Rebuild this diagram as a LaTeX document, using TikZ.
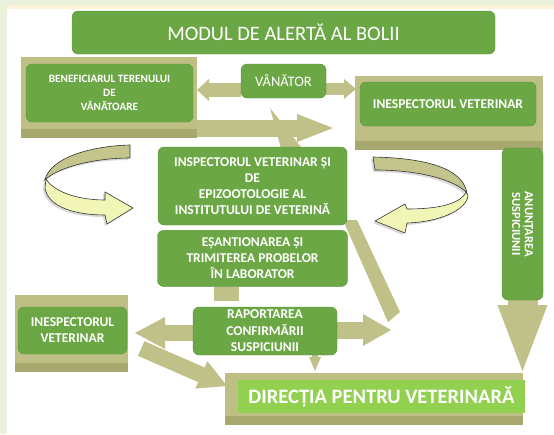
\documentclass[tikz,border=0pt]{standalone}
\usepackage{fontspec}
\setmainfont{Carlito}
\usepackage{tikz}
\usetikzlibrary{arrows.meta}
\usetikzlibrary{positioning,shadows,backgrounds}
\definecolor{boxgreen}{HTML}{6CA745}
\definecolor{boxedge}{HTML}{5A9138}
\definecolor{brightgreen}{HTML}{92D050}
\definecolor{khaki}{HTML}{BDBF85}
\definecolor{khakidark}{HTML}{A6A86D}
\definecolor{khakiarrow}{HTML}{BFC189}
\definecolor{curlback}{HTML}{C4C58D}
\definecolor{curlfront}{HTML}{F1F6B7}
\definecolor{curlline}{HTML}{333333}
\definecolor{pagegreen}{HTML}{EAF1DD}
\definecolor{pagecream}{HTML}{FDF3D8}

\begin{document}
\begin{tikzpicture}[
		x=1pt, y=-1pt,
		GreenBox/.style={draw=boxedge, fill=boxgreen, rounded corners=6pt, text=white, align=center, inner sep=0pt, font=\bfseries\fontsize{13.5}{16}\selectfont},
		BaseBox/.style={fill=khaki, inner sep=0pt, path picture={\fill[khakidark] ([yshift=9pt]path picture bounding box.south west) rectangle (path picture bounding box.south east);}},
		FatArrow/.style n args={3}{draw=khakiarrow, line width=#1, -{Triangle[length=#2, width=#3, line width=0pt]}},
		CurlBack/.style={draw=curlline, fill=curlback, line width=0.6pt, drop shadow={opacity=0.3, shadow xshift=-2pt, shadow yshift=-2pt}},
		CurlFront/.style={draw=curlline, fill=curlfront, line width=0.6pt, drop shadow={opacity=0.3, shadow xshift=-2pt, shadow yshift=-2pt}},
		every node/.style={scale=1}
		]
		
		\useasboundingbox (0,0) rectangle (554,434);
		
		\node[GreenBox, minimum width=423pt, minimum height=43pt, font=\fontsize{20.5}{24}\selectfont] (title) at (283.5,32.5) {MODUL DE ALERTĂ AL BOLII};
		
		\node[BaseBox, minimum width=176pt, minimum height=81pt] (benefBase) at (109,97.5) {};
		\node[GreenBox, minimum width=167pt, minimum height=58pt, font=\bfseries\fontsize{11.2}{14}\selectfont] (benef) at (109.5,93) {BENEFICIARUL TERENULUI\\DE\\VÂNĂTOARE};
		
		\node[GreenBox, minimum width=85pt, minimum height=34pt, font=\fontsize{14.5}{16}\selectfont] (vanator) at (283.5,81) {VÂNĂTOR};
		
		\node[BaseBox, minimum width=188pt, minimum height=74pt] (inspTopBase) at (449,113) {};
		\node[GreenBox, minimum width=176pt, minimum height=44pt] (inspTop) at (448,104) {INESPECTORUL VETERINAR};
		
		\node[GreenBox, minimum width=189pt, minimum height=78pt] (central) at (252.5,186) {INSPECTORUL VETERINAR ȘI\\DE\\EPIZOOTOLOGIE AL\\INSTITUTULUI DE VETERINĂ};
		\node[GreenBox, minimum width=190pt, minimum height=56pt, below=5pt of central] (esant) {EȘANTIONAREA ȘI\\TRIMITEREA PROBELOR\\ÎN LABORATOR};
		
		\node[GreenBox, minimum width=144pt, minimum height=48pt, font=\bfseries\fontsize{13.5}{16.5}\selectfont] (raport) at (265,331) {RAPORTAREA\\CONFIRMĂRII\\SUSPICIUNII};
		
		\node[BaseBox, minimum width=113pt, minimum height=77pt] (inspLeftBase) at (71.5,333.5) {};
		\node[GreenBox, minimum width=109pt, minimum height=47pt] (inspLeft) at (72.5,330.5) {INESPECTORUL\\VETERINAR};
		
		\node[GreenBox, rotate=-90, minimum width=152pt, minimum height=41pt, font=\bfseries\fontsize{12.5}{13}\selectfont] (anunt) at (522.5,224) {ANUNȚAREA\\SUSPICIUNII};
		
		\node[BaseBox, minimum width=298pt, minimum height=52pt] (directiaBase) at (374,399) {};
		\node[GreenBox, fill=brightgreen, draw=none, rounded corners=0pt, minimum width=287pt, minimum height=33pt, font=\bfseries\fontsize{20.5}{22}\selectfont] (directia) at (381.5,396.5) {DIRECȚIA PENTRU VETERINARĂ};
		
		% tips of the fat arrows
		\coordinate (benefTip) at (197,90);
		\coordinate (inspTip) at (356,89);
		\coordinate (benefInsp) at (333,128);
		\coordinate (raportR) at (391,330);
		\coordinate (raportL) at (135,333);
		\coordinate (dirLeft) at (227,386);
		\coordinate (smallTip) at (315,371);
		\coordinate (dirTip) at (522,371);
		
		\begin{pgfonlayer}{background}
		\fill[pagegreen] (0,0) rectangle (554,434);
		\fill[pagecream] (7,5) rectangle (554,9);
		\fill[white] (7,9) rectangle (554,434);
		
		\draw[FatArrow={14pt}{12pt}{22pt}] (vanator.west |- benefTip) -- (benefTip);
		\draw[FatArrow={12pt}{12pt}{20pt}] (vanator.east |- inspTip) -- (inspTip);
		\draw[FatArrow={17pt}{36pt}{28pt}] (benefBase.east |- benefInsp) -- (benefInsp);
		\fill[khakiarrow] (270,108) -- (305,152) -- (282,152) -- cycle;
		
		\fill[khakiarrow] (343,220) -- (357,220) -- (400,312) -- (388,322) -- cycle;
		\draw[FatArrow={17pt}{28pt}{32pt}] (raport.east |- raportR) -- (raportR);
		\draw[FatArrow={16pt}{30pt}{32pt}] (raport.west |- raportL) -- (raportL);
		\draw[FatArrow={16pt}{28pt}{30pt}] ([shift={(14,18)}]inspLeft.east) -- (dirLeft);
		\fill[khakiarrow] ([xshift=-39pt]esant.south) rectangle ++(25,14);
		\draw[FatArrow={6pt}{14pt}{12pt}] ([xshift=50pt]raport.south) -- (smallTip);
		\draw[FatArrow={30pt}{66pt}{50pt}] (anunt.east) -- (anunt.east |- dirTip);
		\end{pgfonlayer}
		
		% left curl
		\draw[CurlBack] (130,145) .. controls (90,146) and (50,158) .. (45,180) .. controls (58,167) and (95,158) .. (130,158) -- cycle;
		\draw[CurlFront] (46,179) .. controls (55,193) and (80,200) .. (105,200) -- (105,192) -- (133,208) -- (107,224) -- (105,215) .. controls (75,215) and (48,207) .. (45,188) -- cycle;
		
		% right curl
		\draw[CurlBack] (373,157) .. controls (420,158) and (462,166) .. (467,193) .. controls (455,180) and (420,170) .. (375,170) -- cycle;
		\draw[CurlFront] (466,192) .. controls (460,205) and (435,209) .. (407,209) -- (405,204) -- (375,221) -- (405,233) -- (407,223) .. controls (440,222) and (466,210) .. (468,196) -- cycle;
		
\end{tikzpicture}
\end{document}
